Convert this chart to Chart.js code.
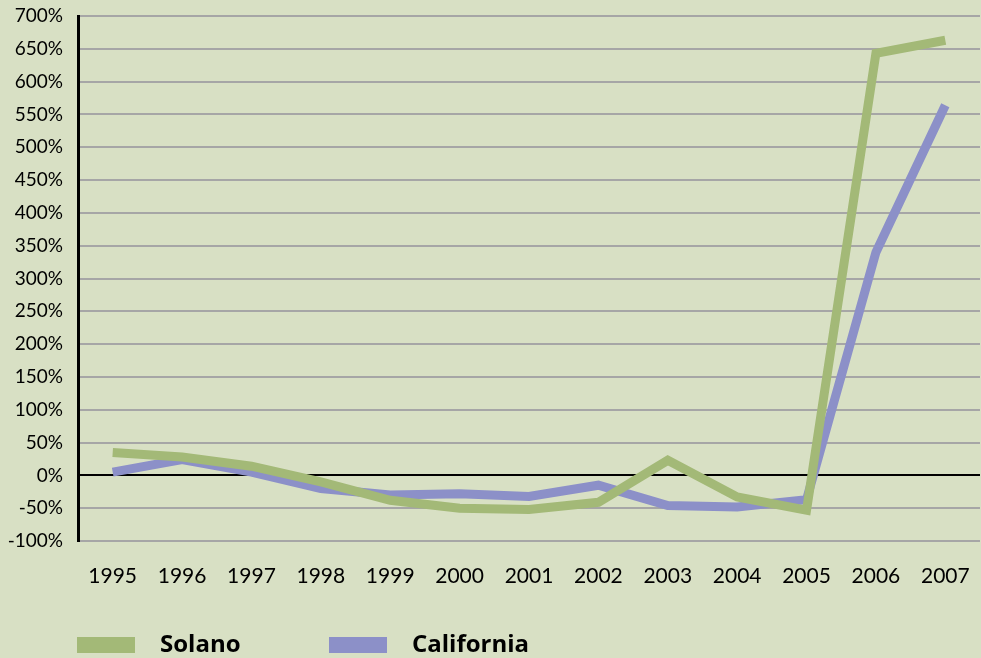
<!DOCTYPE html>
<html>
<head>
<meta charset="utf-8">
<script src="https://cdn.jsdelivr.net/npm/chart.js@4.4.1/dist/chart.umd.min.js"></script>
<style>
    html, body { margin: 0; padding: 0; background: #d8e0c4; }
    #wrap { position: relative; width: 981px; height: 658px; }
</style>
</head>
<body>
<div id="wrap"><canvas id="chart"></canvas></div>
<script>
// Data
const years = ['1995', '1996', '1997', '1998', '1999', '2000', '2001', '2002', '2003', '2004', '2005', '2006', '2007'];
const solano = [35, 28, 14, -10, -38, -50, -52, -41, 23, -33, -53, 643, 663];
const california = [5, 24, 5, -20, -30, -28, -32, -15, -46, -48, -37, 340, 564];
const yTicks = [-100, -50, 0, 50, 100, 150, 200, 250, 300, 350, 400, 450, 500, 550, 600, 650, 700];

const GREEN = '#a3b977';
const PURPLE = '#8c90c8';
const FONT = 'Lato, "DejaVu Sans", sans-serif';

// Legend drawn on the canvas under the plot
const bottomLegend = {
    id: 'bottomLegend',
    afterDraw(chart) {
        const ctx = chart.ctx;
        const spots = [77, 329];
        ctx.save();
        ctx.font = 'bold 24px "Open Sans", sans-serif';
        ctx.textBaseline = 'middle';
        chart.data.datasets.forEach((ds, i) => {
            const x = spots[i];
            ctx.fillStyle = ds.borderColor;
            ctx.fillRect(x, 637, 58, 16);
            ctx.fillStyle = '#000';
            ctx.fillText(ds.label, x + 83, 645);
        });
        ctx.restore();
    }
};

const ctx = document.getElementById('chart').getContext('2d');

new Chart(ctx, {
    type: 'line',
    data: {
        labels: years,
        datasets: [
            {
                label: 'Solano',
                data: solano,
                borderColor: GREEN,
                borderWidth: 9,
                pointRadius: 0,
                tension: 0,
                borderJoinStyle: 'miter'
            },
            {
                label: 'California',
                data: california,
                borderColor: PURPLE,
                borderWidth: 9,
                pointRadius: 0,
                tension: 0,
                borderJoinStyle: 'miter'
            }
        ]
    },
    options: {
        responsive: true,
        maintainAspectRatio: false,
        animation: false,
        layout: { padding: { top: 16, right: 1, left: 0, bottom: 0 } },
        plugins: {
            legend: { display: false },
            tooltip: { enabled: false }
        },
        scales: {
            x: {
                offset: true,
                afterFit: (scale) => {
                    scale.height = 117;
                    scale.paddingLeft = 0;
                    scale.paddingRight = 0;
                },
                grid: { display: false, drawTicks: false },
                border: { display: false },
                ticks: {
                    color: '#000',
                    padding: 23,
                    maxRotation: 0,
                    font: { family: FONT, size: 21 }
                }
            },
            y: {
                min: -100,
                max: 700,
                afterFit: (scale) => {
                    scale.width = 78;
                    scale.paddingTop = 0;
                    scale.paddingBottom = 0;
                },
                afterBuildTicks: (scale) => { scale.ticks = yTicks.map(v => ({ value: v })); },
                grid: {
                    drawTicks: false,
                    lineWidth: 2,
                    color: (c) => c.tick && c.tick.value === 0 ? '#000' : '#a6a6a6'
                },
                border: { display: true, color: '#000', width: 3 },
                ticks: {
                    color: '#000',
                    padding: 15,
                    font: { family: FONT, size: 19 },
                    callback: (v) => v + '%'
                }
            }
        }
    },
    plugins: [bottomLegend]
});
</script>
</body>
</html>
